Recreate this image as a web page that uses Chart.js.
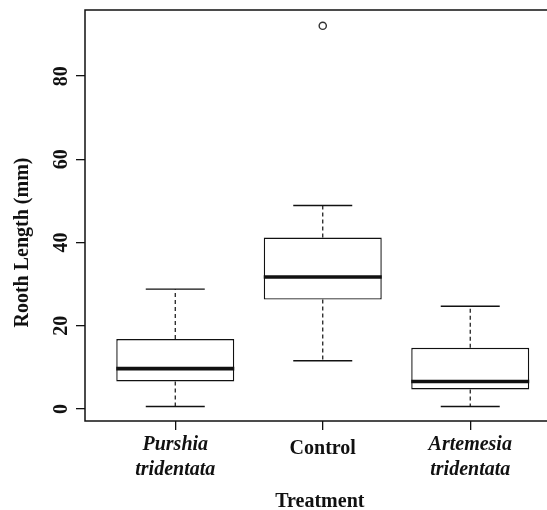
<!DOCTYPE html>
<html lang="en">
<head>
  <meta charset="UTF-8">
  <title>Rooth Length by Treatment</title>
  <script src="https://cdn.jsdelivr.net/npm/chart.js"></script>
  <style>
    html, body {
      margin: 0;
      padding: 0;
      overflow: hidden;
      background: #fff;
    }
    canvas {
      display: block;
    }
  </style>
</head>
<body>
  <canvas id="boxChart" width="560" height="514"></canvas>

  <script>
    // Box plot values (mm)
    const categories = [['Purshia', 'tridentata'], ['Control'], ['Artemesia', 'tridentata']];
    const positions = [1, 2, 3];
    const whiskerLow = [0.6, 11.6, 0.6];
    const q1 = [6.6, 26.3, 4.7];
    const median = [9.7, 31.7, 6.6];
    const q3 = [16.8, 41.2, 14.7];
    const whiskerHigh = [28.8, 48.9, 24.7];
    const outlierX = [2];
    const outlierY = [92.1];
    const yTicks = [0, 20, 40, 60, 80];

    const yTitle = 'Rooth Length (mm)';
    const xTitle = 'Treatment';
    const serif = '"Liberation Serif", "Times New Roman", serif';
    const ink = '#111';

    // Whiskers, medians, frame and y title drawn with the chart's scales
    const boxPlotLines = {
      id: 'boxPlotLines',
      afterDatasetsDraw(chart) {
        const { ctx, scales: { x, y }, chartArea: a } = chart;
        const bars = chart.getDatasetMeta(0).data;
        const line = (x1, y1, x2, y2) => {
          ctx.beginPath();
          ctx.moveTo(x1, y1);
          ctx.lineTo(x2, y2);
          ctx.stroke();
        };
        ctx.save();
        ctx.strokeStyle = ink;
        positions.forEach((p, i) => {
          const cx = x.getPixelForValue(p);
          const half = bars[i].width / 2;
          const cap = half / 2;
          const yLo = y.getPixelForValue(whiskerLow[i]);
          const yHi = y.getPixelForValue(whiskerHigh[i]);
          ctx.lineWidth = 1.2;
          ctx.setLineDash([4, 3]);
          line(cx, y.getPixelForValue(q3[i]), cx, yHi);
          line(cx, y.getPixelForValue(q1[i]), cx, yLo);
          ctx.setLineDash([]);
          ctx.lineWidth = 1.4;
          line(cx - cap, yHi, cx + cap, yHi);
          line(cx - cap, yLo, cx + cap, yLo);
          ctx.lineWidth = 3.6;
          const ym = y.getPixelForValue(median[i]);
          line(cx - half, ym, cx + half, ym);
        });
        // plot frame
        ctx.lineWidth = 1.5;
        ctx.strokeRect(a.left, a.top, a.right - a.left, a.bottom - a.top);
        // y axis title, centred on the tick range
        const mid = (yTicks[0] + yTicks[yTicks.length - 1]) / 2;
        ctx.translate(23, y.getPixelForValue(mid));
        ctx.rotate(-Math.PI / 2);
        ctx.fillStyle = ink;
        ctx.font = 'bold 20px ' + serif;
        ctx.textAlign = 'center';
        ctx.textBaseline = 'middle';
        ctx.fillText(yTitle, 0, 0);
        ctx.restore();
      }
    };

    const ctx = document.getElementById('boxChart').getContext('2d');
    new Chart(ctx, {
      type: 'bar',
      data: {
        datasets: [
          {
            label: 'IQR',
            data: positions.map((p, i) => ({ x: p, y: [q1[i], q3[i]] })),
            backgroundColor: '#fff',
            borderColor: ink,
            borderWidth: 1.4,
            borderSkipped: false,
            barPercentage: 0.8,
            categoryPercentage: 1.0
          },
          {
            type: 'scatter',
            label: 'Outliers',
            data: outlierX.map((v, i) => ({ x: v, y: outlierY[i] })),
            pointStyle: 'circle',
            pointRadius: 3.6,
            pointBorderWidth: 1.4,
            borderColor: '#333',
            backgroundColor: 'rgba(0,0,0,0)'
          }
        ]
      },
      options: {
        responsive: false,
        animation: false,
        devicePixelRatio: 1,
        layout: { padding: { top: 10, right: 2, left: 0, bottom: 0 } },
        plugins: {
          legend: { display: false },
          tooltip: { enabled: false }
        },
        scales: {
          x: {
            type: 'linear',
            offset: false,
            min: 0.388,
            max: 3.572,
            afterBuildTicks: scale => { scale.ticks = positions.map(v => ({ value: v })); },
            afterFit: scale => {
              scale.height = 93;
              scale.paddingLeft = 0;
              scale.paddingRight = 0;
            },
            border: { display: false },
            grid: {
              offset: false,
              drawOnChartArea: false,
              drawTicks: true,
              tickLength: 9,
              color: ink,
              lineWidth: 1.3
            },
            ticks: {
              padding: 2.5,
              color: ink,
              maxRotation: 0,
              autoSkip: false,
              callback: (value, index) => categories[index],
              font: c => ({
                family: serif,
                size: 20,
                weight: 'bold',
                style: categories[c.index] && categories[c.index].length > 1 ? 'italic' : 'normal',
                lineHeight: categories[c.index] && categories[c.index].length > 1 ? 1.25 : 1.65
              })
            },
            title: {
              display: true,
              text: xTitle,
              color: ink,
              font: { family: serif, size: 20, weight: 'bold', lineHeight: 1.2 },
              padding: { top: 0, bottom: 0 }
            }
          },
          y: {
            min: -2.9,
            max: 95.9,
            afterBuildTicks: scale => { scale.ticks = yTicks.map(v => ({ value: v })); },
            afterFit: scale => {
              scale.width = 85;
              scale.paddingTop = 0;
              scale.paddingBottom = 0;
            },
            border: { display: false },
            grid: {
              drawOnChartArea: false,
              drawTicks: true,
              tickLength: 9,
              color: ink,
              lineWidth: 1.3
            },
            ticks: {
              padding: 4,
              color: ink,
              minRotation: 90,
              maxRotation: 90,
              crossAlign: 'center',
              font: { family: serif, size: 20, weight: 'bold' }
            }
          }
        }
      },
      plugins: [boxPlotLines]
    });
  </script>
</body>
</html>
